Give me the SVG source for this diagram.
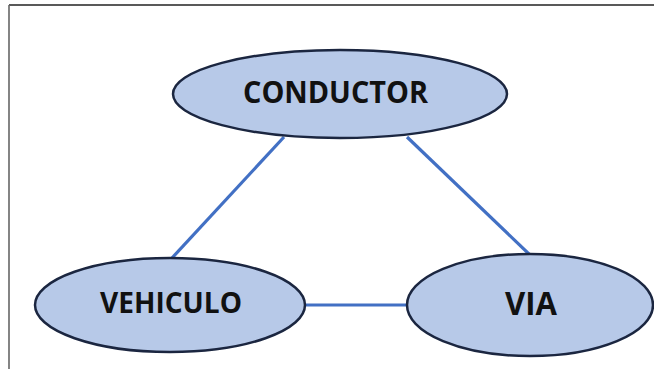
<svg xmlns="http://www.w3.org/2000/svg" width="654" height="369" viewBox="0 0 654 369">
<style>
.node{fill:#B7C9E8;stroke:#1B2640;stroke-width:2.5}
.lbl{font-family:"Open Sans","Liberation Sans",sans-serif;font-weight:bold;fill:#111;text-anchor:middle}
.conn{stroke:#4270C4;stroke-width:3.2;fill:none}
</style>
<rect width="654" height="369" fill="#fff"/>
<line x1="9" y1="5" x2="654" y2="5" stroke="#222" stroke-width="1.6"/>
<line x1="9" y1="5" x2="9" y2="369" stroke="#666" stroke-width="1.6"/>
<g id="connectors">
<line class="conn" x1="284" y1="137" x2="172" y2="258"/>
<line class="conn" x1="407" y1="137" x2="530" y2="255"/>
<line class="conn" x1="305" y1="305" x2="408" y2="305" stroke-width="4"/>
</g>
<g id="conductor">
<ellipse class="node" cx="340" cy="94" rx="167" ry="44"/>
<text class="lbl" x="335.5" y="103" font-size="31" textLength="185" lengthAdjust="spacingAndGlyphs">CONDUCTOR</text>
</g>
<g id="vehiculo">
<ellipse class="node" cx="170" cy="305" rx="135" ry="47"/>
<text class="lbl" x="171" y="313" font-size="29" textLength="142" lengthAdjust="spacingAndGlyphs">VEHICULO</text>
</g>
<g id="via">
<ellipse class="node" cx="530" cy="305" rx="123" ry="51"/>
<text class="lbl" x="531" y="315" font-size="32" textLength="52" lengthAdjust="spacingAndGlyphs">VIA</text>
</g>
</svg>
